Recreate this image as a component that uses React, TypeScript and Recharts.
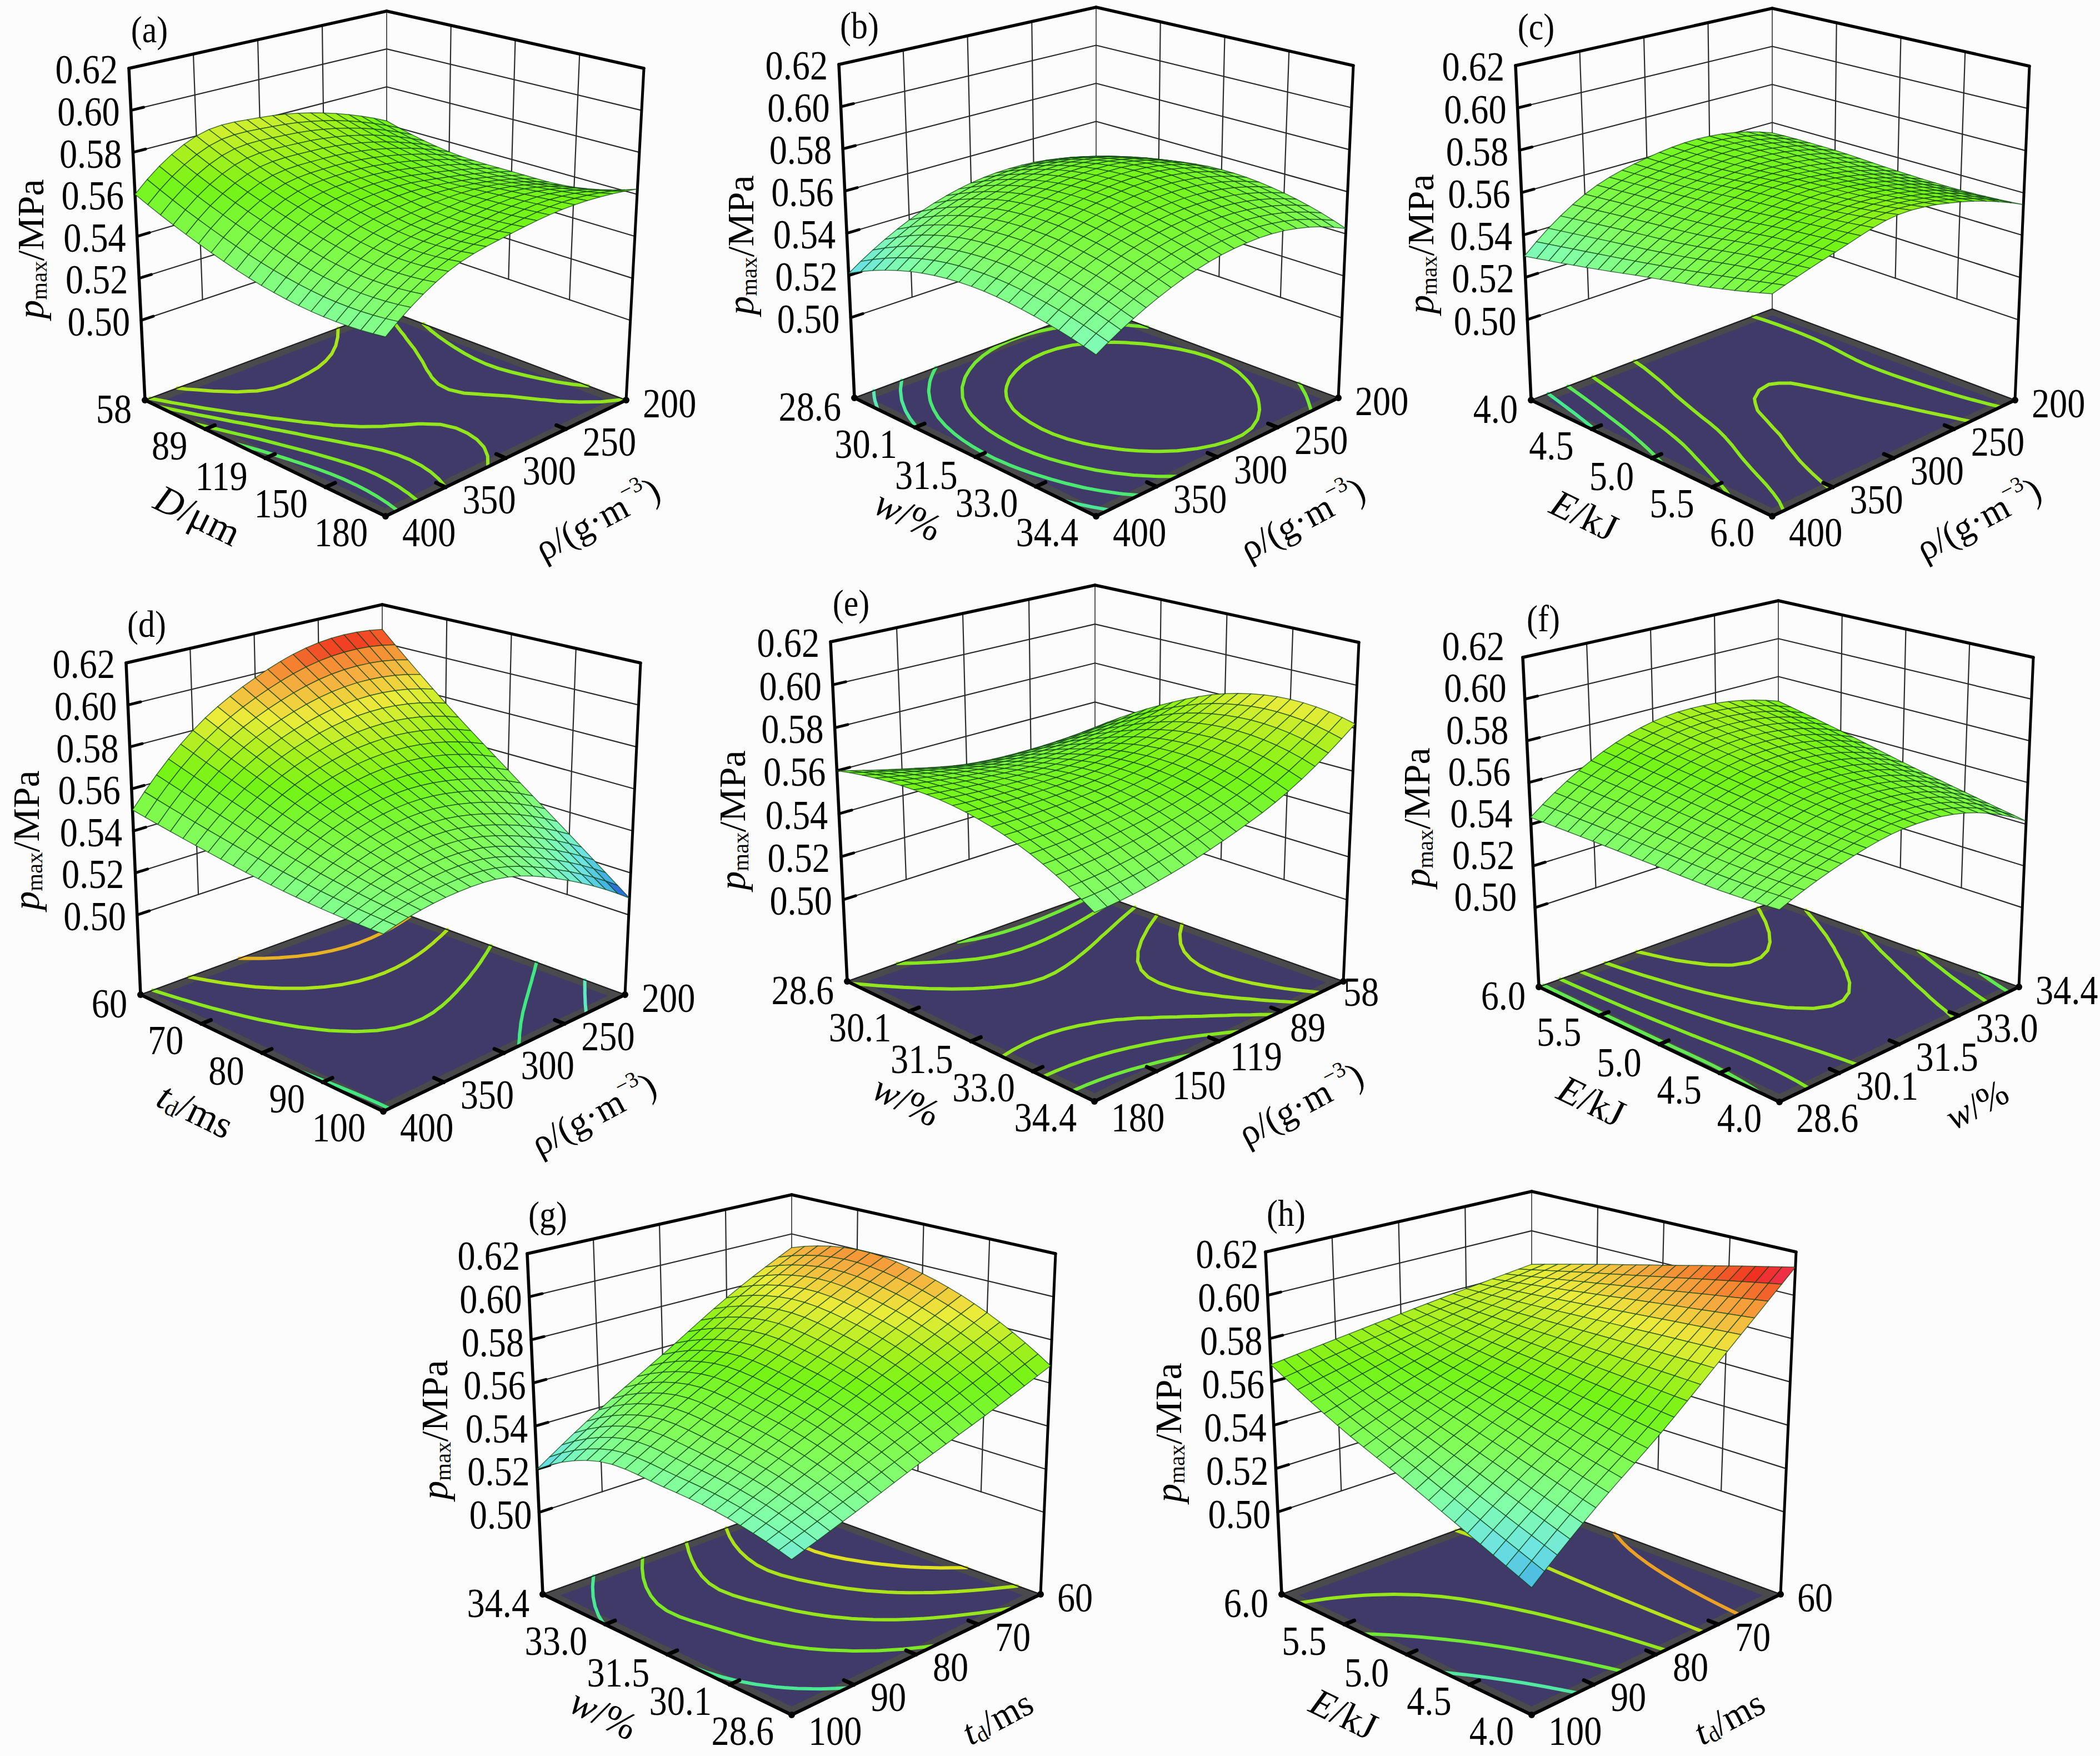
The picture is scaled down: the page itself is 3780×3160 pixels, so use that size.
import { ScatterChart, Scatter, XAxis, YAxis } from 'recharts';

const WIDTH = 3780;
const HEIGHT = 3160;

// p_max at the axis tick crossings.
// Rows run along the left floor axis, columns along the right floor axis.
const surfaceA = [
  [0.56, 0.58, 0.581, 0.575, 0.562],
  [0.548, 0.5676, 0.5704, 0.5662, 0.555],
  [0.54, 0.5596, 0.565, 0.5615, 0.554],
  [0.537, 0.555, 0.5615, 0.5635, 0.555],
  [0.539, 0.557, 0.5635, 0.566, 0.5625],
];
const surfaceB = [
  [0.521, 0.5375, 0.5467, 0.5479, 0.541],
  [0.534, 0.5505, 0.5585, 0.559, 0.5495],
  [0.5387, 0.5545, 0.5625, 0.563, 0.5535],
  [0.5368, 0.552, 0.5595, 0.5595, 0.5508],
  [0.531, 0.545, 0.553, 0.553, 0.5425],
];
const surfaceC = [
  [0.53, 0.5507, 0.5598, 0.562, 0.5546],
  [0.5363, 0.554, 0.5615, 0.5625, 0.5548],
  [0.5429, 0.557, 0.565, 0.5625, 0.5533],
  [0.549, 0.5615, 0.5669, 0.564, 0.5528],
  [0.5564, 0.5644, 0.571, 0.5665, 0.5545],
];
const surfaceD = [
  [0.55, 0.58, 0.598, 0.608, 0.607],
  [0.5449, 0.5679, 0.5802, 0.5836, 0.577],
  [0.541, 0.558, 0.5655, 0.5633, 0.552],
  [0.5389, 0.5501, 0.5529, 0.5452, 0.5294],
  [0.5387, 0.5438, 0.5418, 0.5285, 0.508],
];
const surfaceE = [
  [0.56, 0.5527, 0.5465, 0.545, 0.547],
  [0.5645, 0.5603, 0.5578, 0.56, 0.567],
  [0.5635, 0.5622, 0.5633, 0.569, 0.581],
  [0.556, 0.557, 0.561, 0.5697, 0.586],
  [0.5417, 0.5444, 0.5509, 0.562, 0.582],
];
const surfaceF = [
  [0.5433, 0.5624, 0.5735, 0.5745, 0.567],
  [0.5436, 0.5603, 0.5699, 0.5698, 0.5603],
  [0.5437, 0.558, 0.566, 0.5646, 0.5531],
  [0.5439, 0.556, 0.5627, 0.5602, 0.547],
  [0.5458, 0.5554, 0.5605, 0.5568, 0.5415],
];
const surfaceG = [
  [0.52, 0.5389, 0.5566, 0.576, 0.593],
  [0.5357, 0.552, 0.5676, 0.5845, 0.6],
  [0.536, 0.5508, 0.5655, 0.5809, 0.596],
  [0.5339, 0.546, 0.5586, 0.5715, 0.585],
  [0.5275, 0.5365, 0.5466, 0.5565, 0.568],
];
const surfaceH = [
  [0.568, 0.5717, 0.5755, 0.5793, 0.583],
  [0.5517, 0.5612, 0.5704, 0.5806, 0.5914],
  [0.5393, 0.5533, 0.5668, 0.5823, 0.599],
  [0.527, 0.5455, 0.5631, 0.5838, 0.6063],
  [0.5154, 0.538, 0.5594, 0.585, 0.613],
];

// contour levels on the floor of each panel
const levelsA = [0.5435, 0.55, 0.557, 0.5622, 0.573];
const levelsB = [0.527, 0.5345, 0.5415, 0.5485, 0.5555];
const levelsC = [0.537, 0.544, 0.551, 0.558, 0.564];
const levelsD = [0.522, 0.5395, 0.557, 0.575, 0.5925];
const levelsE = [0.5475, 0.554, 0.5605, 0.567, 0.5735];
const levelsF = [0.545, 0.551, 0.5575, 0.564, 0.5705];
const levelsG = [0.5355, 0.5495, 0.5625, 0.575, 0.5875];
const levelsH = [0.532, 0.5475, 0.563, 0.5785, 0.594];

const zTicks = [0.5, 0.52, 0.54, 0.56, 0.58, 0.6, 0.62];
const ticksDensity = ['400', '350', '300', '250', '200'];
const ticksD = ['58', '89', '119', '150', '180'];
const ticksDRev = ['180', '150', '119', '89', '58'];
const ticksW = ['28.6', '30.1', '31.5', '33.0', '34.4'];
const ticksWRev = ['34.4', '33.0', '31.5', '30.1', '28.6'];
const ticksE = ['4.0', '4.5', '5.0', '5.5', '6.0'];
const ticksERev = ['6.0', '5.5', '5.0', '4.5', '4.0'];
const ticksT = ['60', '70', '80', '90', '100'];
const ticksTRev = ['100', '90', '80', '70', '60'];

type Seg = { t: string; italic?: boolean; shift?: 'sub' | 'sup' };
const titleP: Seg[] = [{ t: 'p', italic: true }, { t: 'max', shift: 'sub' }, { t: '/MPa' }];
const titleDensity: Seg[] = [{ t: 'ρ/(g·m' }, { t: '−3', shift: 'sup' }, { t: ')' }];
const titleD: Seg[] = [{ t: 'D', italic: true }, { t: '/μm' }];
const titleW: Seg[] = [{ t: 'w', italic: true }, { t: '/%' }];
const titleE: Seg[] = [{ t: 'E', italic: true }, { t: '/kJ' }];
const titleT: Seg[] = [{ t: 't', italic: true }, { t: 'd', shift: 'sub' }, { t: '/ms' }];

// box corners on the page: top left, top back, top right, then floor left, back, right, front
type Pt = [number, number];
type Box = Pt[];
const boxA: Box = [[232, 123], [696, 20], [1159, 123], [261, 720], [696, 558], [1127, 720], [694, 929]];
const boxB: Box = [[1510, 116], [1973, 13], [2436, 118], [1538, 716], [1973, 554], [2409, 716], [1973, 929]];
const boxC: Box = [[2728, 118], [3190, 15], [3653, 119], [2756, 720], [3190, 556], [3627, 720], [3190, 929]];
const boxD: Box = [[227, 1193], [688, 1088], [1153, 1193], [253, 1790], [688, 1630], [1125, 1790], [690, 2000]];
const boxE: Box = [[1495, 1155], [1971, 1053], [2446, 1156], [1525, 1766], [1971, 1607], [2418, 1766], [1970, 1982]];
const boxF: Box = [[2741, 1183], [3201, 1081], [3660, 1183], [2770, 1776], [3201, 1620], [3634, 1776], [3203, 1983]];
const boxG: Box = [[949, 2256], [1425, 2150], [1900, 2256], [977, 2869], [1425, 2707], [1873, 2869], [1425, 3086]];
const boxH: Box = [[2278, 2253], [2757, 2144], [3233, 2253], [2307, 2869], [2757, 2704], [3205, 2869], [2757, 3086]];

const noNudge = [[0, 0], [0, 0], [0, 0], [0, 0], [0, 0]];
const nudgeE = [[0, 0], [-2, 3], [-10, 5], [-14, 7], [-30, 13]];

const panels = [
  { id: '(a)', surface: surfaceA, levels: levelsA, box: boxA, left: ticksD, right: ticksDensity, leftTitle: titleD, rightTitle: titleDensity, rightDx: 381, nudge: noNudge, zLabel: [0, 0], zTitle: [0, 0] },
  { id: '(b)', surface: surfaceB, levels: levelsB, box: boxB, left: ticksW, right: ticksDensity, leftTitle: titleW, rightTitle: titleDensity, rightDx: 371, nudge: noNudge, zLabel: [0, 0], zTitle: [0, 0] },
  { id: '(c)', surface: surfaceC, levels: levelsC, box: boxC, left: ticksE, right: ticksDensity, leftTitle: titleE, rightTitle: titleDensity, rightDx: 371, nudge: noNudge, zLabel: [0, 0], zTitle: [6, -4] },
  { id: '(d)', surface: surfaceD, levels: levelsD, box: boxD, left: ticksT, right: ticksDensity, leftTitle: titleT, rightTitle: titleDensity, rightDx: 378, nudge: noNudge, zLabel: [0, 0], zTitle: [-3, -6] },
  { id: '(e)', surface: surfaceE, levels: levelsE, box: boxE, left: ticksW, right: ticksDRev, leftTitle: titleW, rightTitle: titleDensity, rightDx: 371, nudge: nudgeE, zLabel: [0, 0], zTitle: [0, -4] },
  { id: '(f)', surface: surfaceF, levels: levelsF, box: boxF, left: ticksERev, right: ticksW, leftTitle: titleE, rightTitle: titleW, rightDx: 355, nudge: noNudge, zLabel: [-13, -22], zTitle: [-14, -37] },
  { id: '(g)', surface: surfaceG, levels: levelsG, box: boxG, left: ticksWRev, right: ticksTRev, leftTitle: titleW, rightTitle: titleT, rightDx: 370, nudge: noNudge, zLabel: [7, 2], zTitle: [10, -8] },
  { id: '(h)', surface: surfaceH, levels: levelsH, box: boxH, left: ticksERev, right: ticksTRev, leftTitle: titleE, rightTitle: titleT, rightDx: 355, nudge: noNudge, zLabel: [7, 2], zTitle: [2, 0] },
];

const Z_FLOOR = 0.462;
const Z_TOP = 0.62;
const MESH = 20;
const serif = '"Liberation Serif", "Times New Roman", serif';

const rampZ = [0.508, 0.515, 0.525, 0.535, 0.548, 0.565, 0.575, 0.585, 0.595, 0.602, 0.607, 0.613];
const rampRgb = [
  [20, 20, 200], [60, 170, 225], [110, 228, 225], [130, 255, 170], [130, 252, 90], [116, 244, 22],
  [170, 240, 30], [235, 236, 58], [245, 176, 64], [245, 128, 48], [240, 48, 32], [240, 48, 112],
];
const lineZ = [0.525, 0.54, 0.55, 0.575, 0.588, 0.597];
const lineRgb = [
  [96, 232, 192], [64, 232, 128], [128, 232, 32], [170, 228, 24], [222, 224, 32], [240, 130, 40],
];

function colorFrom(zs: number[], rgbs: number[][], z: number) {
  if (z <= zs[0]) return `rgb(${rgbs[0].join(',')})`;
  for (let i = 1; i < zs.length; i++) {
    if (z <= zs[i]) {
      const f = (z - zs[i - 1]) / (zs[i] - zs[i - 1]);
      const c = rgbs[i].map((v, k) => Math.round(rgbs[i - 1][k] + (v - rgbs[i - 1][k]) * f));
      return `rgb(${c.join(',')})`;
    }
  }
  return `rgb(${rgbs[rgbs.length - 1].join(',')})`;
}

const lerp = (a: number, b: number, f: number) => a + (b - a) * f;

// where a point of the box lands on the page; s runs left->front, t runs front->right
function project(box: Box, s: number, t: number, z: number) {
  const [tl, tb, tr, l, b, r, f] = box;
  const frontHeight = ((l[1] - tl[1]) * (l[1] - tl[1])) / (b[1] - tb[1]);
  const tf: Pt = [f[0], f[1] - frontHeight];
  const zn = (z - Z_FLOOR) / (Z_TOP - Z_FLOOR);
  const at = (k: number) => {
    const lo = (1 - s) * (1 - t) * l[k] + s * (1 - t) * f[k] + s * t * r[k] + (1 - s) * t * b[k];
    const hi = (1 - s) * (1 - t) * tl[k] + s * (1 - t) * tf[k] + s * t * tr[k] + (1 - s) * t * tb[k];
    return lerp(lo, hi, zn);
  };
  return { x: at(0), y: at(1) };
}

// smooth curve through the tick samples, same idea as a curved line series
function curveAt(v: number[], u: number) {
  const n = v.length;
  const i = Math.min(Math.floor(u), n - 2);
  const f = u - i;
  const p0 = i > 0 ? v[i - 1] : 3 * v[0] - 3 * v[1] + v[2];
  const p3 = i < n - 2 ? v[i + 2] : 3 * v[n - 1] - 3 * v[n - 2] + v[n - 3];
  const p1 = v[i];
  const p2 = v[i + 1];
  return 0.5 * (2 * p1 + (p2 - p0) * f + (2 * p0 - 5 * p1 + 4 * p2 - p3) * f * f + (3 * p1 - p0 - 3 * p2 + p3) * f * f * f);
}

function refine(grid: number[][]) {
  const rows = grid.map((row) => Array.from({ length: MESH + 1 }, (_, j) => curveAt(row, (j * 4) / MESH)));
  return Array.from({ length: MESH + 1 }, (_, i) =>
    Array.from({ length: MESH + 1 }, (_, j) => curveAt(rows.map((r) => r[j]), (i * 4) / MESH)),
  );
}

const noDot = () => <g />;
const seg = (a: any, b: any, key: string | number, stroke: string, width: number) => (
  <line key={key} x1={a.x} y1={a.y} x2={b.x} y2={b.y} stroke={stroke} strokeWidth={width} strokeLinecap="round" />
);

// walls, axes and floor; points come in as: top left, top back, top right, floor left, back, right, front
function framePoints(box: Box) {
  return box.map(([x, y]) => ({ x, y }));
}

function renderFrame(pts: any[]) {
  const [tl, tb, tr, l, b, r] = pts;
  const mix = (p: any, q: any, u: number) => ({ x: lerp(p.x, q.x, u), y: lerp(p.y, q.y, u) });
  const els: any[] = [];
  const zn = (z: number) => (z - Z_FLOOR) / (Z_TOP - Z_FLOOR);
  const wallBottom = zn(0.5);
  const thin = '#2b2b2b';
  [0.25, 0.5, 0.75].forEach((u, i) => {
    els.push(seg(mix(mix(l, b, u), mix(tl, tb, u), wallBottom), mix(tl, tb, u), `vl${i}`, thin, 2.2));
    els.push(seg(mix(mix(b, r, u), mix(tb, tr, u), wallBottom), mix(tb, tr, u), `vr${i}`, thin, 2.2));
  });
  els.push(seg(b, tb, 'vb', '#555', 2));
  zTicks.slice(0, -1).forEach((z, i) => {
    const a = mix(l, tl, zn(z));
    const m = mix(b, tb, zn(z));
    const c = mix(r, tr, zn(z));
    els.push(seg(a, m, `zl${i}`, thin, 2.2));
    els.push(seg(m, c, `zr${i}`, thin, 2.2));
    els.push(seg(a, mix(a, m, 0.05), `zt${i}`, '#000', 5));
  });
  els.push(seg(tl, tb, 'top1', '#000', 5.5));
  els.push(seg(tb, tr, 'top2', '#000', 5.5));
  els.push(seg(l, tl, 'axl', '#000', 5.5));
  els.push(seg(r, tr, 'axr', '#000', 5));
  return <g>{els}</g>;
}

// floor with contours plus the surface on top, drawn back to front
function renderSurface(pts: any[], panel: (typeof panels)[number]) {
  const n = panel.surface.length;
  const grid = (key: 'x' | 'y') => panel.surface.map((row, i) => row.map((_, j) => pts[i * n + j][key]));
  const gx = refine(grid('x'));
  const gy = refine(grid('y'));
  const gz = refine(panel.surface);
  const [l, f, r, b] = pts.slice(n * n);
  const floorAt = (s: number, t: number) => ({
    x: (1 - s) * (1 - t) * l.x + s * (1 - t) * f.x + s * t * r.x + (1 - s) * t * b.x,
    y: (1 - s) * (1 - t) * l.y + s * (1 - t) * f.y + s * t * r.y + (1 - s) * t * b.y,
  });
  const poly = (c: any[]) => c.map((p) => `${p.x},${p.y}`).join(' ');
  const inset = 0.035;
  const els: any[] = [];
  els.push(<polygon key="floor" points={poly([l, f, r, b])} fill="#4a4a4c" stroke="#222" strokeWidth={2} />);
  els.push(
    <polygon
      key="floorIn"
      points={poly([floorAt(inset, inset), floorAt(1 - inset, inset), floorAt(1 - inset, 1 - inset), floorAt(inset, 1 - inset)])}
      fill="#403a68"
    />,
  );

  panel.levels.forEach((level, li) => {
    let d = '';
    for (let i = 0; i < MESH; i++) {
      for (let j = 0; j < MESH; j++) {
        const c = [
          { i, j, z: gz[i][j] },
          { i: i + 1, j, z: gz[i + 1][j] },
          { i: i + 1, j: j + 1, z: gz[i + 1][j + 1] },
          { i, j: j + 1, z: gz[i][j + 1] },
        ];
        const cross: any[] = [];
        c.forEach((p, k) => {
          const q = c[(k + 1) % 4];
          if (p.z < level !== q.z < level) {
            const u = (level - p.z) / (q.z - p.z);
            cross.push(floorAt(lerp(p.i, q.i, u) / MESH, lerp(p.j, q.j, u) / MESH));
          }
        });
        for (let k = 0; k + 1 < cross.length; k += 2) {
          d += `M${cross[k].x} ${cross[k].y}L${cross[k + 1].x} ${cross[k + 1].y}`;
        }
      }
    }
    els.push(<path key={`lv${li}`} d={d} fill="none" stroke={colorFrom(lineZ, lineRgb, level)} strokeWidth={6} strokeLinecap="round" />);
  });

  els.push(seg(l, f, 'fl', '#000', 6));
  els.push(seg(f, r, 'fr', '#000', 6));
  els.push(seg(l, b, 'bl', '#222', 2));
  els.push(seg(b, r, 'br', '#222', 2));
  [0.25, 0.5, 0.75].forEach((u, k) => {
    const p = floorAt(u, 0);
    const w = floorAt(1, u);
    els.push(seg(p, floorAt(u, 0.04), `t1${k}`, '#000', 7));
    els.push(seg(w, floorAt(0.96, u), `t2${k}`, '#000', 7));
  });
  [l, f, r].forEach((p, k) => els.push(<circle key={`c${k}`} cx={p.x} cy={p.y} r={6} fill="#000" />));

  for (let i = 0; i < MESH; i++) {
    for (let j = MESH - 1; j >= 0; j--) {
      const z = (gz[i][j] + gz[i + 1][j] + gz[i + 1][j + 1] + gz[i][j + 1]) / 4;
      const c = [
        `${gx[i][j]},${gy[i][j]}`,
        `${gx[i + 1][j]},${gy[i + 1][j]}`,
        `${gx[i + 1][j + 1]},${gy[i + 1][j + 1]}`,
        `${gx[i][j + 1]},${gy[i][j + 1]}`,
      ].join(' ');
      els.push(<polygon key={`q${i}-${j}`} points={c} fill={colorFrom(rampZ, rampRgb, z)} stroke="#0c3f14" strokeWidth={1.5} strokeOpacity={0.72} strokeLinejoin="round" />);
    }
  }
  return <g>{els}</g>;
}

function surfacePoints(panel: (typeof panels)[number]) {
  const n = panel.surface.length;
  const out: { x: number; y: number }[] = [];
  panel.surface.forEach((row, i) => row.forEach((z, j) => out.push(project(panel.box, i / (n - 1), j / (n - 1), z))));
  const [, , , l, b, r, f] = panel.box;
  [l, f, r, b].forEach(([x, y]) => out.push({ x, y }));
  return out;
}

function labelPoints(panel: (typeof panels)[number]) {
  const [tl, , , l, , r, f] = panel.box;
  const out: any[] = [];
  zTicks.forEach((z) => {
    const p = project(panel.box, 0, 0, z);
    out.push({ x: p.x - 20 + panel.zLabel[0], y: p.y + 3 + panel.zLabel[1], text: z.toFixed(2), anchor: 'end' });
  });
  const leftDy = [17, 30, 33, 30, 30];
  const rightDy = [30, 23, 23, 23, 7];
  panel.left.forEach((text, i) => {
    const u = i / 4;
    out.push({ x: lerp(l[0], f[0], u) - (i === 0 ? 24 : 32), y: lerp(l[1], f[1], u) + leftDy[i], text, anchor: 'end' });
  });
  panel.right.forEach((text, i) => {
    const u = i / 4;
    out.push({
      x: lerp(f[0], r[0], u) + 30 + panel.nudge[i][0],
      y: lerp(f[1], r[1], u) + rightDy[i] + panel.nudge[i][1],
      text,
      anchor: 'start',
    });
  });
  out.push({ x: tl[0] + 37, y: tl[1] - 70, text: panel.id, anchor: 'middle', size: 68 });
  out.push({ x: tl[0] - 177 + panel.zTitle[0], y: tl[1] + 325 + panel.zTitle[1], segs: titleP, angle: -90, size: 68 });
  out.push({ x: f[0] - 338, y: f[1] - 2, segs: panel.leftTitle, angle: 26, size: 70 });
  out.push({ x: f[0] + panel.rightDx, y: f[1] + 4, segs: panel.rightTitle, angle: -28, size: 66 });
  return out;
}

function LabelShape(props: any) {
  const { cx, cy, payload } = props;
  const size = payload.size ?? 73;
  if (payload.segs) {
    let lastShift = 0;
    return (
      <text
        x={cx}
        y={cy}
        transform={`rotate(${payload.angle} ${cx} ${cy})`}
        textAnchor="middle"
        dominantBaseline="central"
        fontFamily={serif}
        fontSize={size}
        fill="#000"
      >
        {payload.segs.map((s: Seg, i: number) => {
          const shift = s.shift === 'sub' ? size * 0.22 : s.shift === 'sup' ? -size * 0.32 : 0;
          const dy = shift - lastShift;
          lastShift = shift;
          return (
            <tspan key={i} dy={dy} fontStyle={s.italic ? 'italic' : 'normal'} fontSize={s.shift ? size * 0.6 : size}>
              {s.t}
            </tspan>
          );
        })}
      </text>
    );
  }
  // the source lettering is a little taller than it is wide
  return (
    <text
      transform={`translate(${cx} ${cy}) scale(0.88 1)`}
      textAnchor={payload.anchor}
      dominantBaseline="central"
      fontFamily={serif}
      fontSize={size}
      fill="#000"
    >
      {payload.text}
    </text>
  );
}

export default function App() {
  return (
    <div style={{ position: 'absolute', left: 0, top: 0, width: WIDTH, height: HEIGHT, background: '#fcfcfc' }}>
      <ScatterChart width={WIDTH} height={HEIGHT} margin={{ top: 0, right: 0, bottom: 0, left: 0 }}>
        <XAxis type="number" dataKey="x" domain={[0, WIDTH]} hide />
        <YAxis type="number" dataKey="y" domain={[0, HEIGHT]} reversed hide />
        {panels.map((p) => (
          <Scatter
            key={`frame${p.id}`}
            data={framePoints(p.box)}
            shape={noDot}
            line={(lp: any) => renderFrame(lp.points)}
            isAnimationActive={false}
          />
        ))}
        {panels.map((p) => (
          <Scatter
            key={`surface${p.id}`}
            data={surfacePoints(p)}
            shape={noDot}
            line={(lp: any) => renderSurface(lp.points, p)}
            isAnimationActive={false}
          />
        ))}
        {panels.map((p) => (
          <Scatter key={`labels${p.id}`} data={labelPoints(p)} shape={LabelShape} isAnimationActive={false} />
        ))}
      </ScatterChart>
    </div>
  );
}
